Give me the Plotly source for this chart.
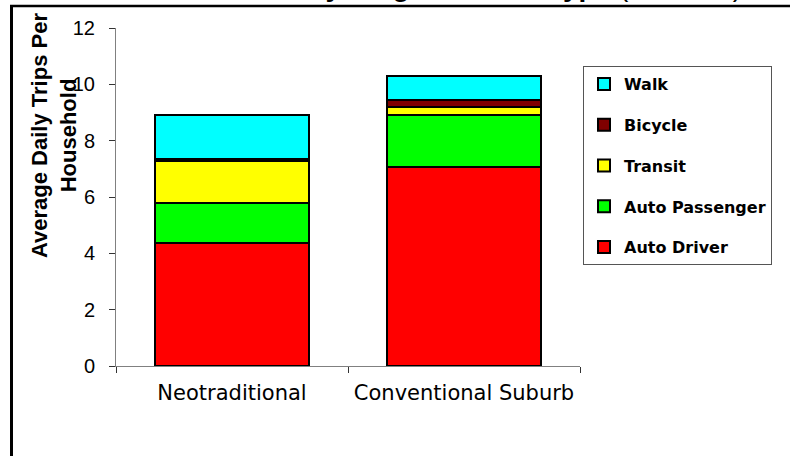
import plotly.graph_objects as go

categories = ["Neotraditional", "Conventional Suburb"]
modes = ["Auto Driver", "Auto Passenger", "Transit", "Bicycle", "Walk"]
auto_driver = [4.38, 7.06]
auto_passenger = [1.40, 1.86]
transit = [1.50, 0.27]
bicycle = [0.08, 0.24]
walk = [1.55, 0.86]
colors = ["#FF0000", "#00FF00", "#FFFF00", "#800000", "#00FFFF"]
y_ticks = [0, 2, 4, 6, 8, 10, 12]

series = [auto_driver, auto_passenger, transit, bicycle, walk]

W, H = 790, 456
L, R, T, B = 116, 580, 28, 366  # plot area pixels


def px_x(p):
    return (p - L) / (R - L)


def px_y(p):
    return (B - p) / (B - T)


fig = go.Figure()
for i, (name, vals, col) in enumerate(zip(modes, series, colors)):
    fig.add_trace(go.Bar(
        x=categories, y=vals, name=name, legendgroup=name,
        legendrank=len(modes) - i,
        marker=dict(color=col, line=dict(color="black", width=2)),
    ))

fig.update_layout(
    width=W, height=H,
    margin=dict(l=L, r=W - R, t=T, b=H - B, pad=0, autoexpand=False),
    paper_bgcolor="white", plot_bgcolor="white",
    barmode="stack", bargap=0.336,
    showlegend=True,
    legend=dict(
        x=px_x(583), y=px_y(66), xanchor="left", yanchor="top",
        bordercolor="#555555", borderwidth=1, bgcolor="white",
        font=dict(family="DejaVu Sans", size=16, color="black", weight="bold"),
        traceorder="grouped", tracegroupgap=17,
        itemwidth=30, entrywidth=200,
    ),
    xaxis=dict(
        showline=True, linecolor="#808080", linewidth=1, automargin=False,
        ticks="outside", ticklen=6, tickcolor="#333333", tickson="boundaries",
        tickfont=dict(family="DejaVu Sans", size=21, color="black"),
        ticklabelstandoff=8, showgrid=False, zeroline=False,
    ),
    yaxis=dict(
        range=[0, 12], tickvals=y_ticks, ticktext=[str(v) for v in y_ticks],
        showline=True, linecolor="#808080", linewidth=1, automargin=False,
        ticks="outside", ticklen=6, tickcolor="#333333",
        tickfont=dict(family="Liberation Sans", size=20, color="black"),
        ticklabelstandoff=10, showgrid=False, zeroline=False,
    ),
    yaxis2=dict(
        range=[0, 12], tickvals=y_ticks, overlaying="y", anchor="x", side="left",
        ticks="inside", ticklen=6, tickcolor="#333333", showticklabels=False,
        showline=False, showgrid=False, zeroline=False, automargin=False,
    ),
    annotations=[
        dict(
            text="Average Daily Trips Per<br>Household", textangle=-90,
            xref="paper", yref="paper", x=px_x(54), y=px_y(136),
            xanchor="center", yanchor="middle", showarrow=False,
            font=dict(family="Liberation Sans", size=22, color="black", weight="bold"),
        ),
        dict(
            text="<b>Mode Share by Neighborhood Type</b> (Portland)",
            xref="paper", yref="paper", x=px_x(744), y=px_y(4),
            xanchor="right", yanchor="bottom", showarrow=False,
            font=dict(family="Liberation Sans", size=28, color="black"),
        ),
    ],
    shapes=[
        dict(type="line", xref="paper", yref="paper",
             x0=px_x(11.5), x1=px_x(11.5), y0=px_y(5), y1=px_y(470),
             line=dict(color="black", width=3)),
        dict(type="line", xref="paper", yref="paper",
             x0=px_x(10), x1=px_x(800), y0=px_y(6), y1=px_y(6),
             line=dict(color="black", width=2.5)),
    ],
)

fig.write_html(
    "out.html",
    config={"displayModeBar": False},
    post_script="document.body.style.margin='0';document.body.style.overflow='hidden';",
)
